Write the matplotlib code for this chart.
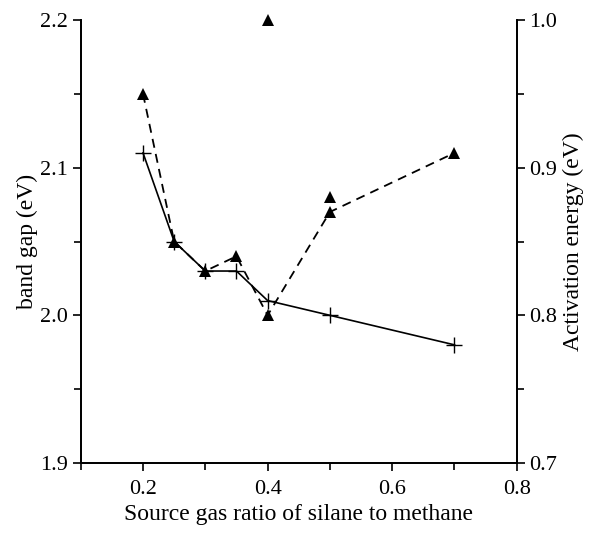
import matplotlib
matplotlib.use("Agg")
import matplotlib.pyplot as plt
from matplotlib.ticker import MultipleLocator

plt.rcParams['font.family'] = ['Liberation Serif', 'DejaVu Serif']

ratio = [0.2, 0.25, 0.3, 0.35, 0.4, 0.5, 0.7]
band_gap = [2.11, 2.05, 2.03, 2.03, 2.01, 2.00, 1.98]
act_energy = [0.95, 0.85, 0.83, 0.84, 0.80, 0.87, 0.91]
extra_ratio = [0.4, 0.5]
extra_act = [1.00, 0.88]

fig = plt.figure(figsize=(5.94, 5.34), dpi=100)
ax = fig.add_axes([0.1359, 0.133, 0.7341, 0.8295])
ax2 = ax.twinx()

ax.plot(ratio, band_gap, '-', color='black', lw=1.2, marker='+', ms=11, mew=1.0, clip_on=False, zorder=3)
ax2.plot(ratio, act_energy, '--', color='black', lw=1.3, dashes=(5, 3.5), marker='^', ms=8, mew=0, clip_on=False)
ax2.plot(extra_ratio, extra_act, ls='none', color='black', marker='^', ms=8, mew=0, clip_on=False)

ax.set_xlim(0.1, 0.8)
ax.set_ylim(1.9, 2.2)
ax2.set_ylim(0.7, 1.0)

ax.xaxis.set_major_locator(MultipleLocator(0.2))
ax.xaxis.set_minor_locator(MultipleLocator(0.1))
ax.yaxis.set_major_locator(MultipleLocator(0.1))
ax.yaxis.set_minor_locator(MultipleLocator(0.05))
ax2.yaxis.set_major_locator(MultipleLocator(0.1))
ax2.yaxis.set_minor_locator(MultipleLocator(0.05))
ax.xaxis.set_major_formatter(plt.FormatStrFormatter('%.1f'))
ax.yaxis.set_major_formatter(plt.FormatStrFormatter('%.1f'))
ax2.yaxis.set_major_formatter(plt.FormatStrFormatter('%.1f'))

for a in (ax, ax2):
    a.spines['top'].set_visible(False)
    for s in a.spines.values():
        s.set_linewidth(1.3)
    a.tick_params(which='major', direction='out', length=6, width=1.2, labelsize=16, pad=3)
    a.tick_params(which='minor', direction='out', length=5, width=1.2)
ax.tick_params(which='both', top=False, right=False)
ax2.tick_params(which='both', left=False)
ax.tick_params(axis='x', pad=6)

ax.set_xlabel('Source gas ratio of silane to methane', fontsize=17, labelpad=4)
ax.set_ylabel('band gap (eV)', fontsize=17, labelpad=2)
ax2.set_ylabel('Activation energy (eV)', fontsize=17, labelpad=4)

fig.savefig('out.png', dpi=100)
